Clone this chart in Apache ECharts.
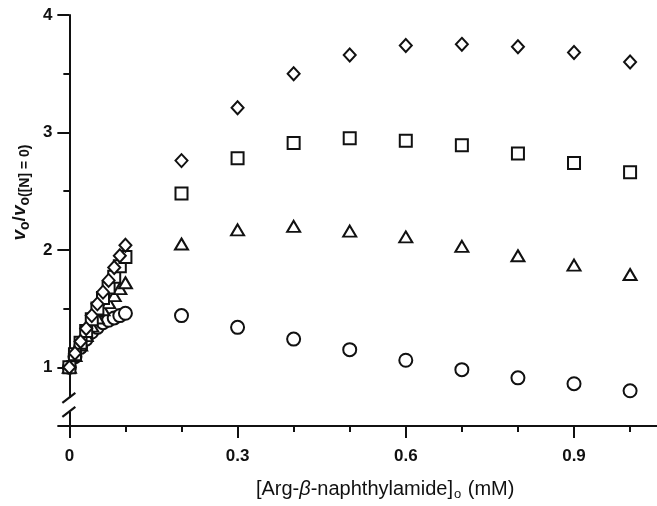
<!DOCTYPE html>
<html>
<head>
<meta charset="utf-8">
<script src="https://cdn.jsdelivr.net/npm/echarts@6/dist/echarts.min.js"></script>
<style>html,body{margin:0;padding:0;background:#fff}#c{width:657px;height:506px}</style>
</head>
<body>
<div id="c"></div>
<script>
// Arg-beta-naphthylamide concentration (mM)
const conc = [0, 0.01, 0.02, 0.03, 0.04, 0.05, 0.06, 0.07, 0.08, 0.09, 0.1, 0.2, 0.3, 0.4, 0.5, 0.6, 0.7, 0.8, 0.9, 1.0];
// relative rate v0/v0([N]=0)
const diamonds  = [1.00, 1.12, 1.22, 1.33, 1.44, 1.54, 1.64, 1.74, 1.85, 1.95, 2.04, 2.76, 3.21, 3.50, 3.66, 3.74, 3.75, 3.73, 3.68, 3.60];
const squares   = [1.00, 1.11, 1.21, 1.31, 1.41, 1.50, 1.59, 1.68, 1.77, 1.86, 1.94, 2.48, 2.78, 2.91, 2.95, 2.93, 2.89, 2.82, 2.74, 2.66];
const triangles = [1.00, 1.10, 1.19, 1.27, 1.35, 1.42, 1.49, 1.55, 1.61, 1.67, 1.72, 2.05, 2.17, 2.20, 2.16, 2.11, 2.03, 1.95, 1.87, 1.79];
const circles   = [1.00, 1.09, 1.17, 1.24, 1.30, 1.34, 1.38, 1.40, 1.42, 1.44, 1.46, 1.44, 1.34, 1.24, 1.15, 1.06, 0.98, 0.91, 0.86, 0.80];
const xMajor = [0, 0.3, 0.6, 0.9];
const xMinor = [0.1, 0.2, 0.4, 0.5, 0.7, 0.8, 1.0];
const yMajor = [1, 2, 3, 4];
const yMinor = [1.5, 2.5, 3.5];

const pairs = arr => conc.map((x, i) => [x, arr[i]]);
const chart = echarts.init(document.getElementById('c'));
const FF = 'Liberation Sans, Arial, sans-serif';
const lblFont = {color: '#111', fontFamily: FF, fontWeight: 'bold', fontSize: 17};
const axLine = {show: true, lineStyle: {color: '#111', width: 2}};
function sym(name, size, data) {
  return {type: 'scatter', symbol: name, symbolSize: size, data: pairs(data),
    itemStyle: {color: '#fff', borderColor: '#111', borderWidth: 2, opacity: 1}, emphasis: {disabled: true}};
}
chart.setOption({
  animation: false,
  grid: {left: 67, right: 0, top: 15, bottom: 71},
  xAxis: [
    {type: 'value', position: 'bottom', min: 0, max: 1.048, splitLine: {show: false},
     axisLine: axLine,
     axisTick: {show: true, customValues: xMajor, length: 12, inside: false, lineStyle: {color: '#111', width: 2}},
     axisLabel: Object.assign({customValues: xMajor, margin: 22, formatter: v => String(v)}, lblFont),
     name: '{t|[Arg-}{b|β}{t|-naphthylamide]}{s|o}{t| (mM)}', nameLocation: 'middle', nameGap: 52,
     nameTextStyle: {padding: [0, 0, 0, 44], rich: {
       t: {fontFamily: FF, fontSize: 20, color: '#111', lineHeight: 22},
       b: {fontFamily: FF, fontSize: 20, color: '#111', fontStyle: 'italic', lineHeight: 22},
       s: {fontFamily: FF, fontSize: 13, color: '#111', padding: [11, 1, 0, 1], lineHeight: 22}
     }}},
    {type: 'value', position: 'bottom', min: 0, max: 1.048, splitLine: {show: false}, axisLine: {show: false},
     axisTick: {show: true, customValues: xMinor, length: 6, lineStyle: {color: '#111', width: 2}},
     axisLabel: {show: false}}
  ],
  yAxis: [
    {type: 'value', position: 'left', min: 0.5, max: 4, splitLine: {show: false},
     axisLine: axLine,
     axisTick: {show: true, customValues: yMajor, length: 12, lineStyle: {color: '#111', width: 2}},
     axisLabel: Object.assign({customValues: yMajor, margin: 17}, lblFont),
     name: '{v|v}{s|o}{t|/}{v|v}{s|o([N] = 0)}', nameLocation: 'middle', nameGap: 27, nameRotate: 90,
     nameTextStyle: {padding: [0, 0, 0, 56], rich: {
       v: {fontFamily: FF, fontSize: 19, color: '#111', fontWeight: 'bold', fontStyle: 'italic', lineHeight: 22},
       t: {fontFamily: FF, fontSize: 19, color: '#111', fontWeight: 'bold', lineHeight: 22},
       s: {fontFamily: FF, fontSize: 14, color: '#111', fontWeight: 'bold', padding: [10, 0, 0, 0], lineHeight: 22}
     }}},
    {type: 'value', position: 'left', min: 0.5, max: 4, splitLine: {show: false}, axisLine: {show: false},
     axisTick: {show: true, customValues: yMinor, length: 6, lineStyle: {color: '#111', width: 2}},
     axisLabel: {show: false}}
  ],
  series: [
    sym('circle', 13, circles),
    sym('triangle', [13, 11], triangles),
    sym('rect', 12, squares),
    sym('diamond', [12, 13], diamonds)
  ]
});

// axis break marks on the y axis and left extension of the x axis
const p0 = chart.convertToPixel({xAxisIndex: 0, yAxisIndex: 0}, [0, 0.5]);
const pb = chart.convertToPixel({xAxisIndex: 0, yAxisIndex: 0}, [0, 0.74]);
const ax = p0[0], ay = p0[1], by = pb[1];
chart.setOption({
  graphic: [
    {type: 'line', shape: {x1: ax - 12, y1: ay, x2: ax, y2: ay}, style: {stroke: '#111', lineWidth: 2}, z: 10},
    {type: 'rect', shape: {x: ax - 3, y: by, width: 6, height: 14}, style: {fill: '#fff'}, z: 10},
    {type: 'line', shape: {x1: ax - 7, y1: by + 5, x2: ax + 6, y2: by - 5}, style: {stroke: '#111', lineWidth: 2.2}, z: 11},
    {type: 'line', shape: {x1: ax - 7, y1: by + 19, x2: ax + 6, y2: by + 9}, style: {stroke: '#111', lineWidth: 2.2}, z: 11}
  ]
});
</script>
</body>
</html>
